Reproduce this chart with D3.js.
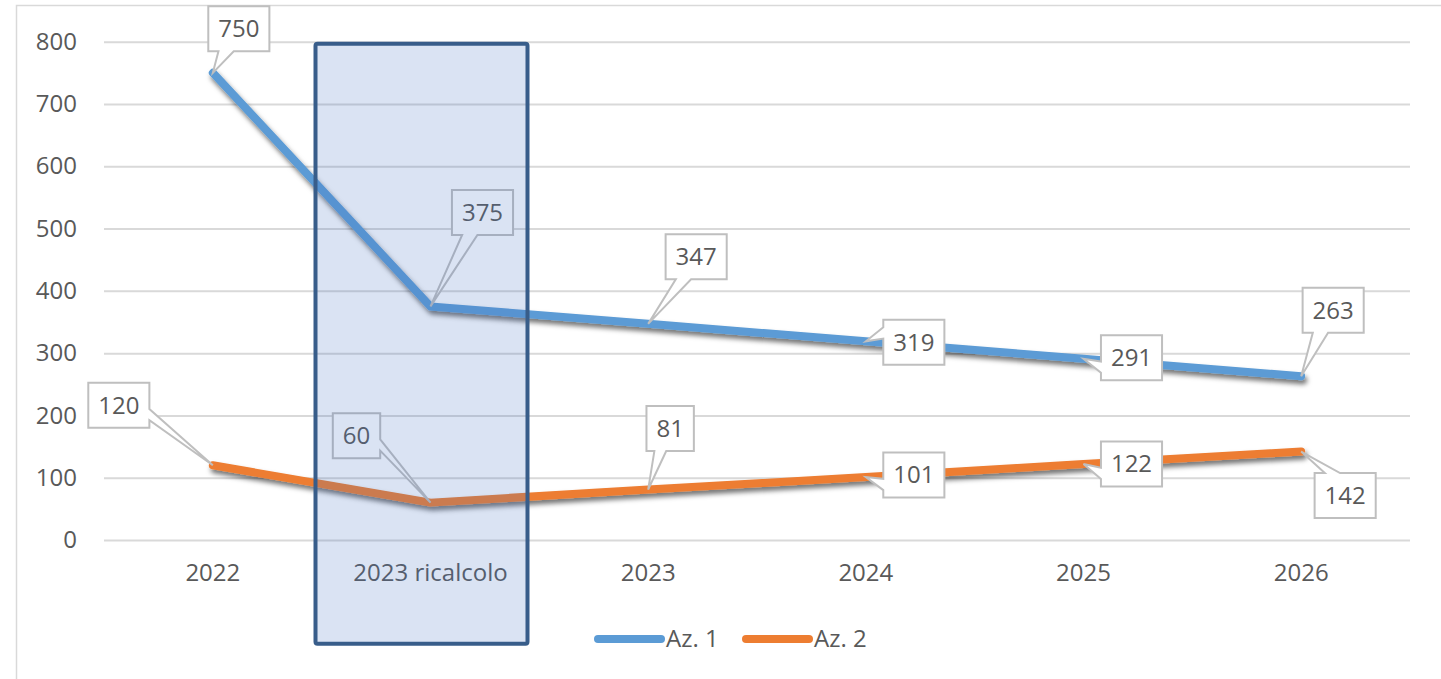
<!DOCTYPE html>
<html>
<head>
<meta charset="utf-8">
<script src="https://cdn.jsdelivr.net/npm/d3@7"></script>
<style>
    body { margin: 0; background: #fff; }
    text { font-family: "Open Sans", "Noto Sans", sans-serif; fill: #595959; }
</style>
</head>
<body>
<div id="chart"></div>
<script>
// Chart data
const categories = ["2022", "2023 ricalcolo", "2023", "2024", "2025", "2026"];
const az1Values = [750, 375, 347, 319, 291, 263];
const az2Values = [120, 60, 81, 101, 122, 142];
const seriesNames = ["Az. 1", "Az. 2"];
const yTicks = [0, 100, 200, 300, 400, 500, 600, 700, 800];
const highlightCategory = "2023 ricalcolo";

// Callout placement (box centre offset from the point), per series
const az1Callouts = [[26, -44], [52, -94], [48, -67], [48, 1], [48, -1], [32, -66]];
const az2Callouts = [[-94, -60], [-74, -67], [22, -61], [48, -2], [48, 0], [44, 44]];

const config = {
    width: 1441,
    height: 679,
    margin: {top: 41.7, right: 31, bottom: 139, left: 104}
};
const colors = ["#5b9bd5", "#ed7d31"];

const innerW = config.width - config.margin.left - config.margin.right;
const innerH = config.height - config.margin.top - config.margin.bottom;

const svg = d3.select("#chart").append("svg")
    .attr("width", config.width)
    .attr("height", config.height);

// drop shadow for the lines
const defs = svg.append("defs");
defs.append("filter")
    .attr("id", "shadow")
    .attr("x", "-10%").attr("y", "-30%")
    .attr("width", "120%").attr("height", "160%")
    .append("feDropShadow")
    .attr("dx", 2).attr("dy", 4)
    .attr("stdDeviation", 2.5)
    .attr("flood-color", "#000")
    .attr("flood-opacity", 0.55);

// outer chart border
svg.append("rect")
    .attr("x", 16.5).attr("y", 5.5)
    .attr("width", config.width).attr("height", config.height)
    .attr("fill", "none")
    .attr("stroke", "#d9d9d9")
    .attr("stroke-width", 1.5);

const chart = svg.append("g")
    .attr("transform", `translate(${config.margin.left},${config.margin.top})`);

const x = d3.scaleBand()
    .domain(categories)
    .range([0, innerW]);

const y = d3.scaleLinear()
    .domain([0, 800])
    .range([innerH, 0]);

// gridlines + y labels
const yAxis = chart.append("g")
    .call(d3.axisLeft(y).tickValues(yTicks).tickSize(-innerW).tickPadding(27));
yAxis.select(".domain").remove();
yAxis.selectAll(".tick line")
    .attr("stroke", "#d9d9d9")
    .attr("stroke-width", 2);
yAxis.selectAll(".tick text")
    .attr("font-size", 24)
    .attr("fill", "#595959")
    .attr("font-family", "Open Sans");

// x labels
const xAxis = chart.append("g")
    .attr("transform", `translate(0,${innerH})`)
    .call(d3.axisBottom(x).tickSize(0).tickPadding(24));
xAxis.select(".domain").remove();
xAxis.selectAll(".tick text")
    .attr("font-size", 24)
    .attr("fill", "#595959")
    .attr("font-family", "Open Sans");

const series = [
    {name: seriesNames[0], values: az1Values, callouts: az1Callouts, color: colors[0]},
    {name: seriesNames[1], values: az2Values, callouts: az2Callouts, color: colors[1]}
];

const line = d3.line()
    .x((d, i) => x(categories[i]) + x.bandwidth() / 2)
    .y(d => y(d));

chart.selectAll("path.series")
    .data(series)
    .join("path")
    .attr("class", "series")
    .attr("d", d => line(d.values))
    .attr("fill", "none")
    .attr("stroke", d => d.color)
    .attr("stroke-width", 8)
    .attr("stroke-linecap", "round")
    .attr("stroke-linejoin", "round")
    .attr("filter", "url(#shadow)");

// callout shape like Office wedgeRectCallout
function calloutPath(px, py, cx, cy, w, h) {
    const l = cx - w / 2, t = cy - h / 2, r = cx + w / 2, b = cy + h / 2;
    const dx = px - cx, dy = py - cy;
    const vertical = Math.abs(dy) / h > Math.abs(dx) / w;
    if (vertical) {
        const x1 = dx < 0 ? l + w * 2 / 12 : l + w * 7 / 12;
        const x2 = dx < 0 ? l + w * 5 / 12 : l + w * 10 / 12;
        if (dy > 0) {
            return `M${l},${t}H${r}V${b}H${x2}L${px},${py}L${x1},${b}H${l}Z`;
        }
        return `M${l},${t}H${x1}L${px},${py}L${x2},${t}H${r}V${b}H${l}Z`;
    }
    const y1 = dy < 0 ? t + h * 2 / 12 : t + h * 7 / 12;
    const y2 = dy < 0 ? t + h * 5 / 12 : t + h * 10 / 12;
    if (dx > 0) {
        return `M${l},${t}H${r}V${y1}L${px},${py}L${r},${y2}V${b}H${l}Z`;
    }
    return `M${l},${t}H${r}V${b}H${l}V${y2}L${px},${py}L${l},${y1}Z`;
}

series.forEach(s => {
    s.values.forEach((v, i) => {
        const px = x(categories[i]) + x.bandwidth() / 2;
        const py = y(v);
        const cx = px + s.callouts[i][0];
        const cy = py + s.callouts[i][1];
        const label = String(v);
        const w = label.length * 13.7 + 20;
        const h = 45;
        chart.append("path")
            .attr("d", calloutPath(px, py, cx, cy, w, h))
            .attr("fill", "#fff")
            .attr("stroke", "#bfbfbf")
            .attr("stroke-width", 2);
        chart.append("text")
            .attr("x", cx)
            .attr("y", cy)
            .attr("dy", "0.35em")
            .attr("text-anchor", "middle")
            .attr("font-size", 24)
            .text(label);
    });
});

// highlight box over the recalculated year
const hx = x(highlightCategory) + x.bandwidth() / 2;
chart.append("rect")
    .attr("x", hx - 115)
    .attr("y", 2)
    .attr("width", 212)
    .attr("height", 600)
    .attr("rx", 2)
    .attr("fill", "rgba(68,114,196,0.2)")
    .attr("stroke", "#385d8a")
    .attr("stroke-width", 4);

// legend
const legend = svg.append("g")
    .attr("transform", "translate(598,639)");
const items = legend.selectAll("g")
    .data(series)
    .join("g")
    .attr("transform", (d, i) => `translate(${i * 148},0)`);
items.append("line")
    .attr("x1", 0).attr("x2", 63)
    .attr("stroke", d => d.color)
    .attr("stroke-width", 8)
    .attr("stroke-linecap", "round");
items.append("text")
    .attr("x", 68)
    .attr("dy", "0.35em")
    .attr("font-size", 24)
    .text(d => d.name);
</script>
</body>
</html>
